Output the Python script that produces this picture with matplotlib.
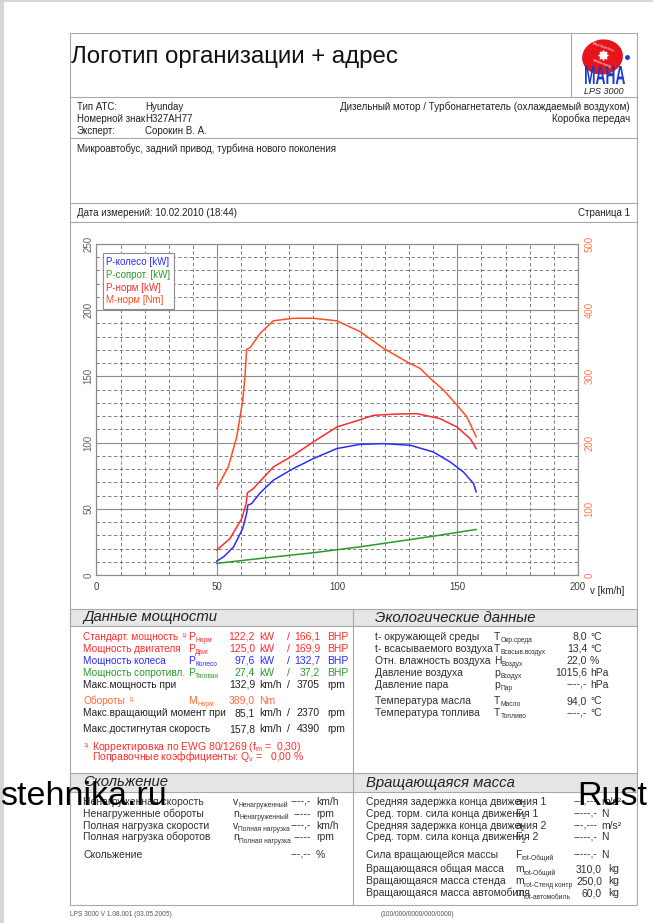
import matplotlib
matplotlib.use('Agg')
import matplotlib.pyplot as plt
from matplotlib.patches import Rectangle, Ellipse, PathPatch
from matplotlib.ticker import MultipleLocator
from matplotlib.textpath import TextPath
from matplotlib.font_manager import FontProperties
from matplotlib.transforms import Affine2D

plt.rcParams['font.family'] = ['Liberation Sans', 'DejaVu Sans']
plt.rcParams['mathtext.default'] = 'regular'

# --- curve data (speed in km/h) ---
wheel_speed = [50, 53, 57, 60.8, 62.4, 62.9, 64.5, 68, 73.5, 81.8, 90.1, 99.9,
               109.6, 119.3, 130.4, 140, 147, 152.5, 156.7, 157.8]
wheel_kw = [10.5, 14, 21.3, 35.2, 46.5, 52.7, 54, 62, 71.6, 80.4, 87.9, 95.5,
            98.7, 99.2, 98, 92.9, 85.4, 77.8, 69.1, 62.8]

drag_speed = [50, 73.5, 90.1, 109.6, 129, 142.8, 157.8]
drag_kw = [8.8, 13.6, 16.8, 21.3, 26.4, 30.1, 34.4]

norm_speed = [50, 55.5, 60.4, 62.2, 62.7, 65.2, 73.5, 81.8, 90.1, 99.9, 109.6,
              115.1, 124, 133.1, 142.8, 149.8, 155.3, 157.8]
norm_kw = [18.8, 27.6, 42.7, 54, 62, 65.3, 81.6, 90.4, 100.5, 111.8, 117.3,
           120.6, 121.5, 121.9, 118.1, 111.8, 103, 95.5]

torque_speed = [50, 54.8, 58.3, 60.8, 61.7, 62.4, 63.8, 68, 73.5, 81.8, 90.1,
                99.9, 109.6, 119.3, 129, 134.5, 138.7, 144.2, 149.8, 153.9, 157.8]
torque_nm = [131, 163.6, 209, 264, 299.6, 341, 343, 365, 384, 387.8, 387.8,
             384, 367.5, 342.4, 322, 312, 297, 279.5, 256.8, 239, 209]

series_labels = ['P-колесо [kW]', 'P-сопрот. [kW]', 'P-норм [kW]', 'M-норм [Nm]']

RED = '#ff2b2b'
BLUE = '#2b2bff'
GREEN = '#2a9a2a'
ORANGE = '#ff6a3a'
TORQUE = '#ff4f1f'
DARK = '#222222'
GREY_TXT = '#303030'
LINE = '#a8a8a8'

W, H = 653, 923
fig = plt.figure(figsize=(W / 100, H / 100), dpi=100)
page = fig.add_axes([0, 0, 1, 1])
page.set_xlim(0, W)
page.set_ylim(H, 0)
page.axis('off')


def put(x, y, s, size=7.5, color=DARK, **kw):
    page.text(x, y + 3.5, s, fontsize=size, color=color, va='baseline', **kw)


# approximate advance of the main symbol letter at 7.5pt, in pixels
letter_w = {'P': 6.9, 'M': 8.7, 'T': 6.4, 'H': 7.5, 'p': 5.8, 'v': 5.2,
            'n': 5.8, 'a': 5.8, 'F': 6.4, 'm': 8.7}


def sym(x, y, main, subtxt, color=GREY_TXT):
    put(x, y, main, color=color)
    put(x + letter_w[main] + 0.3, y + 2.3, subtxt, size=4.8, color=color)


# page border and separators
page.add_patch(Rectangle((0, 0), 4, H, color='#d6d6d6', lw=0))
page.add_patch(Rectangle((0, 0), W, 2, color='#d6d6d6', lw=0))
page.add_patch(Rectangle((70, 609), 567, 17, facecolor='#e6e6e6', edgecolor=LINE, lw=0.8))
page.add_patch(Rectangle((70, 773), 567, 19, facecolor='#e6e6e6', edgecolor=LINE, lw=0.8))
page.add_patch(Rectangle((70, 33), 567, 872, fill=False, edgecolor=LINE, lw=0.8))
for yy in [97, 138, 203, 222]:
    page.plot([70, 637], [yy, yy], color=LINE, lw=0.8)
page.plot([571, 571], [33, 97], color=LINE, lw=0.8)
page.plot([353, 353], [609, 905], color=LINE, lw=0.8)

# header
page.text(71, 57, 'Логотип организации + адрес', fontsize=17.3, color='#111111', va='center')
page.add_patch(Ellipse((602.5, 57), 41, 35, angle=-10, color='#e8141c', lw=0))
page.plot([602.5], [55], marker=(8, 1, 0), ms=7, color='white')
page.plot([627], [57], marker='o', ms=2.5, color='#1a3cc8')
page.text(603, 47, 'Maschinenbau', fontsize=2.6, color='white', ha='center', va='center', rotation=-20)
page.text(602, 64, 'Haldenwang', fontsize=2.6, color='white', ha='center', va='center', rotation=-20)
logo = TextPath((0, 0), 'MAHA', size=1, prop=FontProperties(family='Liberation Sans', weight='bold'))
lb = logo.get_extents()
logo_tr = (Affine2D().translate(-lb.x0, -lb.y0)
           .scale(40 / lb.width, -18 / lb.height).translate(585, 84))
page.add_patch(PathPatch(logo_tr.transform_path(logo), color='#1a3cc8', lw=0))
page.text(604, 91, 'LPS 3000', fontsize=6.5, color=DARK, ha='center', va='center', style='italic')

info_labels = ['Тип АТС:', 'Номерной знак', 'Эксперт:']
info_values = ['Hyunday', 'H327AH77', 'Сорокин В. А.']
for i, (lab, val) in enumerate(zip(info_labels, info_values)):
    put(77, 106 + 12 * i, lab, size=7)
    put(145, 106 + 12 * i, val, size=7)
put(630, 106, 'Дизельный мотор / Турбонагнетатель (охлаждаемый воздухом)', size=7.1, ha='right')
put(630, 118, 'Коробка передач', size=7.1, ha='right')
put(77, 149, 'Микроавтобус, задний привод, турбина нового поколения', size=7)
put(77, 213, 'Дата измерений: 10.02.2010 (18:44)', size=7)
put(630, 213, 'Страница 1', size=7, ha='right')

# chart
ax = fig.add_axes([96.5 / W, 1 - 575 / H, 481.2 / W, 331 / H])
ax2 = ax.twinx()
l1, = ax.plot(wheel_speed, wheel_kw, color=BLUE, lw=1.1)
l2, = ax.plot(drag_speed, drag_kw, color=GREEN, lw=1.1)
l3, = ax.plot(norm_speed, norm_kw, color=RED, lw=1.1)
l4, = ax2.plot(torque_speed, torque_nm, color=TORQUE, lw=1.1)
ax.set_xlim(0, 200)
ax.set_ylim(0, 250)
ax2.set_ylim(0, 500)
ax.xaxis.set_major_locator(MultipleLocator(50))
ax.xaxis.set_minor_locator(MultipleLocator(10))
ax.yaxis.set_major_locator(MultipleLocator(50))
ax.yaxis.set_minor_locator(MultipleLocator(10))
ax2.yaxis.set_major_locator(MultipleLocator(100))
ax.grid(which='major', color='#8c8c8c', lw=0.8)
ax.grid(which='minor', color='#6a6a6a', lw=0.6, linestyle=(0, (4, 3)))
ax.set_axisbelow(True)
for a in (ax, ax2):
    for sp in a.spines.values():
        sp.set_color('#8c8c8c')
        sp.set_linewidth(0.8)
ax.tick_params(which='both', length=0)
ax2.tick_params(which='both', length=0)
ax.tick_params(axis='x', labelsize=7, labelcolor='#404040', pad=5)
ax.tick_params(axis='y', labelsize=7, labelcolor='#606060', labelrotation=90, pad=2)
ax2.tick_params(axis='y', labelsize=7, labelcolor='#ff7a50', labelrotation=90, pad=5)
for lab in ax.get_yticklabels() + ax2.get_yticklabels():
    lab.set_va('center')
leg = ax2.legend([l1, l2, l3, l4], series_labels, loc='upper left',
                 bbox_to_anchor=(0.013, 0.972), borderaxespad=0, fontsize=7.0,
                 handlelength=0, handletextpad=0, labelspacing=0.3, borderpad=0.35,
                 fancybox=False, edgecolor='#8c8c8c', framealpha=1)
for txt, ln in zip(leg.get_texts(), [l1, l2, l3, l4]):
    txt.set_color(ln.get_color())
leg.get_frame().set_linewidth(0.8)
put(590, 591, 'v [km/h]', size=7)

# power data section
page.text(83, 617.5, 'Данные мощности', fontsize=10.7, style='italic', color=DARK, va='center')
power_labels = ['Стандарт. мощность', 'Мощность двигателя', 'Мощность колеса', 'Мощность сопротивл.']
power_subs = ['Норм', 'Двиг', 'Колесо', 'Тяговая']
power_kw = ['122,2', '125,0', '97,6', '27,4']
power_bhp = ['166,1', '169,9', '132,7', '37,2']
power_colors = [RED, RED, BLUE, GREEN]
power_rows = [636, 648, 660, 672]
for lab, sb, kw_, bhp, c, y in zip(power_labels, power_subs, power_kw, power_bhp, power_colors, power_rows):
    put(83, y, lab, size=7.2, color=c)
    sym(188, y, 'P', sb, color=c)
    put(255, y, kw_, color=c, ha='right')
    put(259, y, 'kW', color=c)
    put(287, y, '/', color=c)
    put(320, y, bhp, color=c, ha='right')
    put(327, y, 'BHP', color=c)
put(181, 634, '1)', size=4.5, color=RED)

speed_labels = ['Макс.мощность при', 'Макс.вращающий момент при', 'Макс.достигнутая скорость']
speed_kmh = ['132,9', '85,1', '157,8']
speed_rpm = ['3705', '2370', '4390']
speed_rows = [684, 713, 729]
for lab, v, n, y in zip(speed_labels, speed_kmh, speed_rpm, speed_rows):
    put(83, y, lab, size=7.3)
    put(255, y, v, ha='right')
    put(259, y, 'km/h')
    put(287, y, '/')
    put(320, y, n, ha='right')
    put(327, y, 'rpm')
put(83, 700, 'Обороты', size=7.3, color=ORANGE)
put(128, 698, '1)', size=4.5, color=ORANGE)
sym(188, 700, 'M', 'Норм', color=ORANGE)
put(255, 700, '389,0', color=ORANGE, ha='right')
put(259, 700, 'Nm', color=ORANGE)
put(83, 744, '1)', size=4.5, color=RED)
put(92, 746, 'Корректировка по EWG 80/1269 (f$_m$ =  0,30)', color=RED)
put(92, 757, 'Поправочные коэффициенты: Q$_v$ =   0,00 %', color=RED)

# ecology section
page.text(375, 617.5, 'Экологические данные', fontsize=10.7, style='italic', color=DARK, va='center')
eco_labels = ['t- окружающей среды', 't- всасываемого воздуха', 'Отн. влажность воздуха',
              'Давление воздуха', 'Давление пара', 'Температура масла', 'Температура топлива']
eco_syms = [('T', 'Окр.среда'), ('T', 'Всасыв.воздух'), ('H', 'Воздух'), ('p', 'Воздух'),
            ('p', 'Пар'), ('T', 'Масло'), ('T', 'Топливо')]
eco_values = ['8,0', '13,4', '22,0', '1015,6', '----,-', '94,0', '----,-']
eco_units = ['°C', '°C', '%', 'hPa', 'hPa', '°C', '°C']
eco_rows = [636, 648, 660, 672, 684, 700.5, 712.5]
for lab, (m, sb), v, u, y in zip(eco_labels, eco_syms, eco_values, eco_units, eco_rows):
    put(375, y, lab, color=GREY_TXT)
    sym(494, y, m, sb)
    put(587, y, v, color=GREY_TXT, ha='right')
    put(590, y, u, color=GREY_TXT)

# slip section
page.text(83, 782.5, 'Скольжение', fontsize=10.7, style='italic', color=DARK, va='center')
slip_labels = ['Ненагруженная скорость', 'Ненагруженные обороты', 'Полная нагрузка скорости',
               'Полная нагрузка оборотов', 'Скольжение']
slip_syms = [('v', 'Ненагруженный'), ('n', 'Ненагруженный'), ('v', 'Полная нагрузка'),
             ('n', 'Полная нагрузка'), ('', '')]
slip_values = ['----,-', '-----', '----,-', '-----', '---,--']
slip_units = ['km/h', 'rpm', 'km/h', 'rpm', '%']
slip_rows = [801.5, 813.5, 825.5, 837, 854]
for lab, (m, sb), v, u, y in zip(slip_labels, slip_syms, slip_values, slip_units, slip_rows):
    put(83, y, lab, color=GREY_TXT)
    if m:
        sym(233, y, m, sb)
    put(311, y, v, color=GREY_TXT, ha='right')
    put(316, y, u, color=GREY_TXT)

# rotating mass section
page.text(366, 782.5, 'Вращающаяся масса', fontsize=10.7, style='italic', color=DARK, va='center')
rot_labels = ['Средняя задержка конца движения 1', 'Сред. торм. сила конца движения 1',
              'Средняя задержка конца движения 2', 'Сред. торм. сила конца движения 2',
              'Сила вращающейся массы', 'Вращающаяся общая масса',
              'Вращающаяся масса стенда', 'Вращающаяся масса автомобиля']
rot_syms = [('a', '1'), ('F', '1'), ('a', '2'), ('F', '2'), ('F', 'rot-Общий'),
            ('m', 'rot-Общий'), ('m', 'rot-Стенд контр'), ('m', 'rot-автомобиль')]
rot_values = ['---,---', '-----,-', '---,---', '-----,-', '-----,-', '310,0', '250,0', '60,0']
rot_units = ['m/s²', 'N', 'm/s²', 'N', 'N', 'kg', 'kg', 'kg']
rot_rows = [801.5, 813.5, 825.5, 837, 854, 869, 881, 893]
for lab, (m, sb), v, u, y in zip(rot_labels, rot_syms, rot_values, rot_units, rot_rows):
    put(366, y, lab, color=GREY_TXT)
    sym(515, y, m, sb)
    if u == 'kg':
        put(602, y, v, color=GREY_TXT, ha='right')
        put(608, y, u, color=GREY_TXT)
    else:
        put(597, y, v, color=GREY_TXT, ha='right')
        put(601, y, u, color=GREY_TXT)

# footer
page.text(70, 914, 'LPS 3000 V 1.08.001 (03.05.2005)', fontsize=4.8, color='#555555', va='center')
page.text(381, 914, '(100/000/0000/000/0000)', fontsize=4.8, color='#555555', va='center')

# watermark (only the parts visible in the frame)
fig.text(167 / W, 1 - 805 / H, 'stehnika.ru', fontsize=24.5, color='black', ha='right',
         va='baseline', zorder=10)
fig.text(577 / W, 1 - 805 / H, 'Rust', fontsize=24.5, color='black', ha='left',
         va='baseline', zorder=10)

fig.savefig('out.png', dpi=100)
